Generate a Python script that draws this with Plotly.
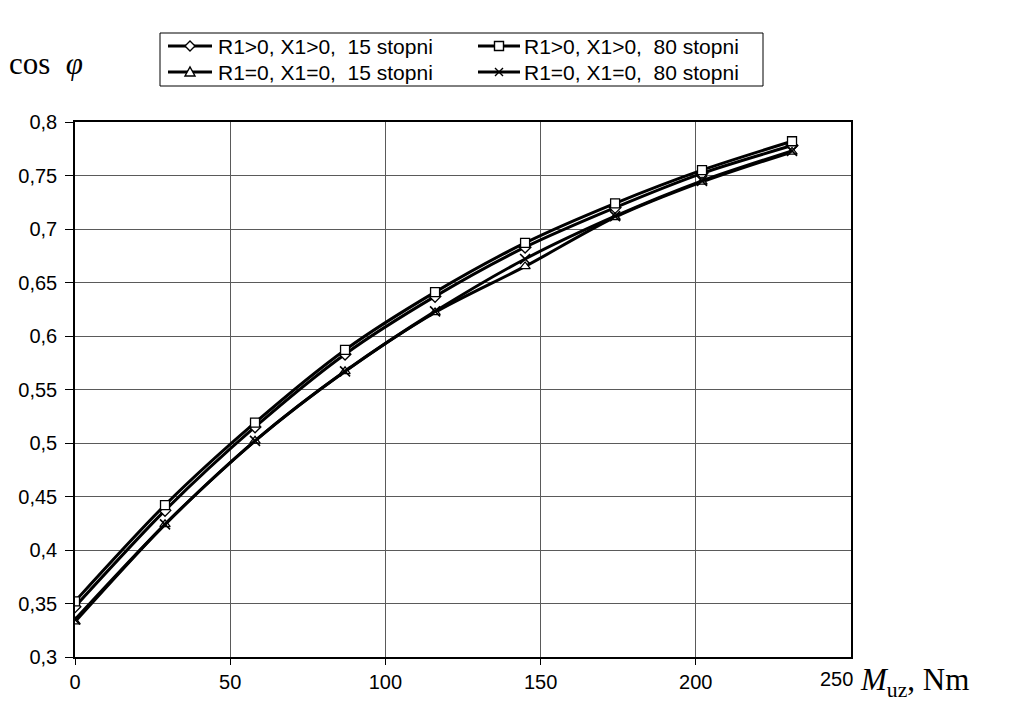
import plotly.graph_objects as go

# ---------------- data ----------------
m_uz = [0, 29, 58, 87, 116, 145, 174, 202, 231]
r_pos_15 = [0.347, 0.437, 0.515, 0.583, 0.637, 0.683, 0.720, 0.752, 0.778]
r_pos_80 = [0.352, 0.442, 0.519, 0.587, 0.641, 0.687, 0.724, 0.755, 0.782]
r_zero_15 = [0.333, 0.424, 0.502, 0.567, 0.622, 0.665, 0.711, 0.744, 0.772]
r_zero_80 = [0.335, 0.424, 0.502, 0.567, 0.623, 0.672, 0.712, 0.745, 0.773]

names = ["R1>0, X1>0,\u00a0\u00a015 stopni", "R1>0, X1>0,\u00a0\u00a080 stopni",
         "R1=0, X1=0,\u00a0\u00a015 stopni", "R1=0, X1=0,\u00a0\u00a080 stopni"]
symbols = ["diamond", "square", "triangle-up", "x-thin"]
series = [r_pos_15, r_pos_80, r_zero_15, r_zero_80]

y_ticks = [0.3, 0.35, 0.4, 0.45, 0.5, 0.55, 0.6, 0.65, 0.7, 0.75, 0.8]
y_tick_text = ["0,3", "0,35", "0,4", "0,45", "0,5", "0,55", "0,6", "0,65", "0,7", "0,75", "0,8"]
x_ticks = [0, 50, 100, 150, 200]
x_tick_text = ["0", "50", "100", "150", "200"]
x_last_tick = 250
x_last_text = "250"

# ---------------- layout geometry ----------------
W, H = 1019, 707
L, R, T, B = 75, 168, 122, 50
pw, ph = W - L - R, H - T - B

def px(xp):
    return (xp - L) / pw

def py(yp):
    return (H - B - yp) / ph

SANS = "Liberation Sans, Arial"
SERIF = "Liberation Serif, Times New Roman"

fig = go.Figure()
for name, sym, ys in zip(names, symbols, series):
    if sym == "x-thin":
        marker = dict(symbol=sym, size=10, color="black",
                      line=dict(color="black", width=1.6))
    else:
        marker = dict(symbol=sym, size=9, color="white",
                      line=dict(color="black", width=1.3))
    fig.add_trace(go.Scatter(
        x=m_uz, y=ys, name=name, mode="lines+markers", showlegend=False,
        line=dict(color="black", width=3, shape="spline", smoothing=0.8),
        marker=marker,
    ))

# ---------------- custom legend (box, sample lines, symbols, texts) ----------------
shapes = [dict(type="rect", xref="paper", yref="paper",
               x0=px(160), x1=px(763), y0=py(86), y1=py(33),
               line=dict(color="black", width=1), fillcolor="white", layer="above")]
annotations = []
cols = [(168, 212, 216), (478, 520, 522)]
rows = [46, 72]
sym_paths = {
    "diamond": "M0,5L5,0L0,-5L-5,0Z",
    "square": "M-4.5,-4.5L4.5,-4.5L4.5,4.5L-4.5,4.5Z",
    "triangle-up": "M-5,-4L5,-4L0,5Z",
    "x-thin": "M-4,-4L4,4M-4,4L4,-4",
}
for i, (name, sym) in enumerate(zip(names, symbols)):
    c0, c1, ct = cols[i % 2]
    ry = rows[i // 2]
    shapes.append(dict(type="line", xref="paper", yref="paper",
                       x0=px(c0), x1=px(c1), y0=py(ry), y1=py(ry),
                       line=dict(color="black", width=3), layer="above"))
    fill = "rgba(0,0,0,0)" if sym == "x-thin" else "white"
    shapes.append(dict(type="path", xref="paper", yref="paper",
                       xsizemode="pixel", ysizemode="pixel",
                       xanchor=px((c0 + c1) / 2), yanchor=py(ry),
                       path=sym_paths[sym], fillcolor=fill,
                       line=dict(color="black", width=1.4), layer="above"))
    annotations.append(dict(text=name, xref="paper", yref="paper",
                            x=px(ct), y=py(ry), xanchor="left", yanchor="middle",
                            showarrow=False,
                            font=dict(family=SANS, size=21, color="black")))

annotations += [
    dict(text="cos\u00a0 <i>φ</i>", xref="paper", yref="paper",
         x=px(7), y=py(63), xanchor="left", yanchor="middle", showarrow=False,
         font=dict(family=SERIF, size=31, color="black")),
    dict(text="<i>M</i><sub>uz</sub>, Nm", xref="paper", yref="paper",
         x=px(858), y=py(682), xanchor="left", yanchor="middle", showarrow=False,
         font=dict(family=SERIF, size=31, color="black")),
    dict(text=x_last_text, xref="x", yref="paper", x=x_last_tick, y=0,
         xshift=-15, yshift=-9, xanchor="center", yanchor="top", showarrow=False,
         font=dict(family=SANS, size=20, color="black")),
]

fig.update_layout(
    width=W, height=H,
    margin=dict(l=L, r=R, t=T, b=B, pad=0),
    paper_bgcolor="white", plot_bgcolor="white",
    font=dict(family=SANS, size=20, color="black"),
    showlegend=False,
    shapes=shapes,
    annotations=annotations,
    xaxis=dict(
        range=[0, 250], tickvals=x_ticks, ticktext=x_tick_text,
        showgrid=True, gridcolor="#5a5a5a", gridwidth=1,
        showline=True, linecolor="black", linewidth=1.5, mirror=True,
        ticks="outside", ticklen=6, tickcolor="black",
        tickfont=dict(family=SANS, size=20, color="black"),
        zeroline=False, fixedrange=True,
    ),
    yaxis=dict(
        range=[0.3, 0.8], tickvals=y_ticks, ticktext=y_tick_text,
        showgrid=True, gridcolor="#5a5a5a", gridwidth=1,
        showline=True, linecolor="black", linewidth=1.5, mirror=True,
        ticks="outside", ticklen=8, tickcolor="black", ticklabelstandoff=4,
        tickfont=dict(family=SANS, size=20, color="black"),
        zeroline=False, fixedrange=True,
    ),
)

fig.write_html("out.html")
